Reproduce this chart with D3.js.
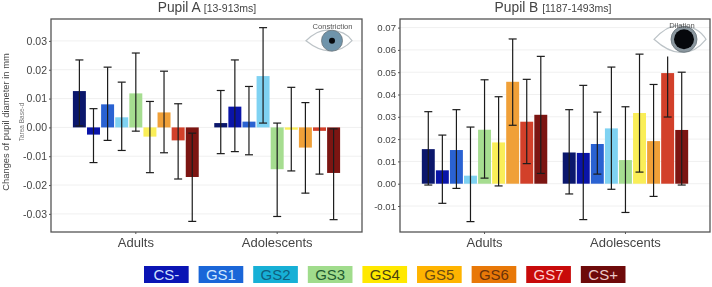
<!DOCTYPE html>
<html>
<head>
<meta charset="utf-8">
<script src="https://cdn.jsdelivr.net/npm/d3@7"></script>
<style>
  html, body { margin: 0; padding: 0; background: #fff; }
  svg { filter: blur(0.35px); }
  text { font-family: "Liberation Sans", Arial, sans-serif; fill: #444; }
</style>
</head>
<body>
<div id="chart"></div>
<script>
// Categories
const groups = ["Adults", "Adolescents"];
const conditions = ["CS-", "GS1", "GS2", "GS3", "GS4", "GS5", "GS6", "GS7", "CS+"];

// Colours of the bars and of the legend boxes differ in the original
const barColors = ["#0b176c", "#0a14a8", "#2a62d2", "#7fd2f2", "#a6dd90", "#faee58", "#f0a038", "#d2402a", "#7c1512"];
const legendColors = ["#0a14b4", "#1a66d8", "#17b0d6", "#a0dc8c", "#ffe800", "#ffb400", "#e87808", "#c80a0a", "#6e0a0a"];
const legendTextColors = ["#cfe0ff", "#cfe8ff", "#0f5f80", "#1f5a30", "#4a4210", "#6a4a10", "#6a3208", "#ffd0d0", "#ecc8c8"];

// Pupil A values
const pupilAAdults = [0.0126, -0.0025, 0.0080, 0.0035, 0.0118, -0.0032, 0.0052, -0.0045, -0.0172];
const pupilAAdultsHi = [0.0234, 0.0065, 0.0209, 0.0157, 0.0258, 0.0090, 0.0195, 0.0082, -0.0020];
const pupilAAdultsLo = [0.0005, -0.0122, -0.0045, -0.0080, -0.0013, -0.0157, -0.0088, -0.0179, -0.0326];
const pupilAAdolescents = [0.0015, 0.0072, 0.0020, 0.0178, -0.0145, -0.0008, -0.0070, -0.0012, -0.0158];
const pupilAAdolescentsHi = [0.0128, 0.0234, 0.0142, 0.0346, 0.0015, 0.0139, 0.0086, 0.0132, -0.0005];
const pupilAAdolescentsLo = [-0.0091, -0.0084, -0.0095, 0.0015, -0.0309, -0.0151, -0.0228, -0.0162, -0.0320];

// Pupil B values
const pupilBAdults = [0.0155, 0.0060, 0.0151, 0.0036, 0.0242, 0.0185, 0.0457, 0.0278, 0.0309];
const pupilBAdultsHi = [0.0323, 0.0218, 0.0332, 0.0254, 0.0466, 0.0390, 0.0649, 0.0468, 0.0571];
const pupilBAdultsLo = [-0.0006, -0.0088, -0.0021, -0.0170, 0.0025, -0.0010, 0.0262, 0.0090, 0.0046];
const pupilBAdolescents = [0.0140, 0.0138, 0.0178, 0.0248, 0.0106, 0.0317, 0.0191, 0.0496, 0.0241];
const pupilBAdolescentsHi = [0.0332, 0.0441, 0.0321, 0.0523, 0.0345, 0.0581, 0.0445, 0.0570, 0.0500];
const pupilBAdolescentsLo = [-0.0046, -0.0161, 0.0043, -0.0025, -0.0129, 0.0052, -0.0057, 0.0299, -0.0006];

const ticksA = [-0.03, -0.02, -0.01, 0, 0.01, 0.02, 0.03];
const ticksB = [-0.01, 0, 0.01, 0.02, 0.03, 0.04, 0.05, 0.06, 0.07];

const width = 712;
const height = 287;

const svg = d3.select("#chart")
    .append("svg")
        .attr("width", width)
        .attr("height", height)
        .style("display", "block");

// Draw one panel
function drawPanel(opts) {
    const scaleX = d3.scaleBand()
        .domain(groups)
        .range([opts.left, opts.right])
        .paddingInner(0)
        .paddingOuter(0.1);

    const scaleInner = d3.scaleBand()
        .domain(conditions)
        .range([0, scaleX.bandwidth()])
        .paddingInner(0.08)
        .paddingOuter(0.55);

    const scaleY = d3.scaleLinear()
        .domain(opts.domain)
        .range([opts.zeroY + (opts.domain[0] / -0.01) * opts.pxPer, opts.zeroY - (opts.domain[1] / 0.01) * opts.pxPer]);

    const g = svg.append("g");

    // grid
    g.append("g").selectAll("line")
        .data(opts.ticks)
        .join("line")
            .attr("x1", opts.left)
            .attr("x2", opts.right)
            .attr("y1", d => scaleY(d))
            .attr("y2", d => scaleY(d))
            .attr("stroke", "#f0f0f0")
            .attr("stroke-width", 1);

    // bars and whiskers per group
    opts.series.forEach(function(s, gi) {
        const group = g.append("g")
            .attr("transform", "translate(" + scaleX(groups[gi]) + ",0)");

        group.selectAll("rect")
            .data(conditions)
            .join("rect")
                .attr("x", d => scaleInner(d))
                .attr("width", scaleInner.bandwidth())
                .attr("y", (d, i) => Math.min(scaleY(s.values[i]), scaleY(0)))
                .attr("height", (d, i) => Math.abs(scaleY(s.values[i]) - scaleY(0)))
                .attr("fill", (d, i) => barColors[i]);

        const err = group.selectAll("g.err")
            .data(conditions)
            .join("g")
                .attr("class", "err")
                .attr("stroke", "#1c1c1c")
                .attr("stroke-width", 1.2)
                .attr("transform", d => "translate(" + (scaleInner(d) + scaleInner.bandwidth() / 2) + ",0)");

        err.append("line")
            .attr("y1", (d, i) => scaleY(s.hi[i]))
            .attr("y2", (d, i) => scaleY(s.lo[i]));

        err.append("line")
            .attr("x1", -4).attr("x2", 4)
            .attr("y1", (d, i) => scaleY(s.lo[i]))
            .attr("y2", (d, i) => scaleY(s.lo[i]));

        // the top cap is missing on GS7 adolescents in panel B
        err.filter((d, i) => !(opts.noTopCap && gi === 1 && i === 7))
            .append("line")
            .attr("x1", -4).attr("x2", 4)
            .attr("y1", d => scaleY(s.hi[conditions.indexOf(d)]))
            .attr("y2", d => scaleY(s.hi[conditions.indexOf(d)]));
    });

    // frame
    g.append("rect")
        .attr("x", opts.left)
        .attr("y", opts.top)
        .attr("width", opts.right - opts.left)
        .attr("height", opts.bottom - opts.top)
        .attr("fill", "none")
        .attr("stroke", "#555")
        .attr("stroke-width", 1.3);

    // y axis
    const axisY = g.append("g")
        .attr("transform", "translate(" + opts.left + ",0)")
        .call(d3.axisLeft(scaleY).tickValues(opts.ticks).tickSize(2).tickPadding(2));
    axisY.select(".domain").remove();
    axisY.selectAll("line").attr("stroke", "#555");
    axisY.selectAll("text")
        .style("font-size", opts.tickFont)
        .style("fill", "#444")
        .text(d => d3.format(".2f")(d).replace("\u2212", "-"));

    // x axis
    const axisX = g.append("g")
        .attr("transform", "translate(0," + opts.bottom + ")")
        .call(d3.axisBottom(scaleX).tickSize(2).tickPadding(4));
    axisX.select(".domain").remove();
    axisX.selectAll("line").attr("stroke", "#555");
    axisX.selectAll("text")
        .style("font-size", "13px")
        .style("fill", "#444");

    // title
    const title = g.append("text")
        .attr("x", opts.titleX)
        .attr("y", 12)
        .attr("text-anchor", "middle")
        .style("font-size", "13.8px");
    title.append("tspan").text(opts.title + " ");
    title.append("tspan").style("font-size", "10.5px").text(opts.range);
}

drawPanel({
    left: 51, right: 362, top: 19, bottom: 232,
    zeroY: 127.4, pxPer: 28.83,
    domain: [-0.0361, 0.0376],
    ticks: ticksA, tickFont: "10.5px",
    title: "Pupil A", range: "[13-913ms]", titleX: 207,
    series: [
        {values: pupilAAdults, hi: pupilAAdultsHi, lo: pupilAAdultsLo},
        {values: pupilAAdolescents, hi: pupilAAdolescentsHi, lo: pupilAAdolescentsLo}
    ]
});

drawPanel({
    left: 400, right: 710, top: 19, bottom: 232,
    zeroY: 183.7, pxPer: 22.3,
    domain: [-0.0217, 0.0737],
    ticks: ticksB, tickFont: "9.6px",
    title: "Pupil B", range: "[1187-1493ms]", titleX: 553,
    noTopCap: true,
    series: [
        {values: pupilBAdults, hi: pupilBAdultsHi, lo: pupilBAdultsLo},
        {values: pupilBAdolescents, hi: pupilBAdolescentsHi, lo: pupilBAdolescentsLo}
    ]
});

// y axis labels
svg.append("text")
    .attr("transform", "translate(9,122) rotate(-90)")
    .attr("text-anchor", "middle")
    .style("font-size", "9.4px")
    .text("Changes of pupil diameter in mm");

svg.append("text")
    .attr("transform", "translate(24,122) rotate(-90)")
    .attr("text-anchor", "middle")
    .style("font-size", "6.5px")
    .style("fill", "#777")
    .text("Tarea Base-d");

// Eye icon, the iris sits a little right of the middle of the lids
function drawEye(eye) {
    const g = svg.append("g").attr("transform", "translate(" + eye.cx + "," + eye.cy + ")");
    const rx = eye.rx, ry = eye.ry;
    g.append("path")
        .attr("d", "M" + (-rx) + ",0 Q" + (-rx * 0.4) + "," + (-ry * 1.3) + " " + (rx * 0.1) + "," + (-ry) +
                   " Q" + (rx * 0.7) + "," + (-ry) + " " + rx + ",0 Q" + (rx * 0.6) + "," + ry + " " + (rx * 0.1) + "," + ry +
                   " Q" + (-rx * 0.4) + "," + (ry * 1.1) + " " + (-rx) + ",0 Z")
        .attr("fill", "#fff")
        .attr("stroke", "#bcc3c7")
        .attr("stroke-width", 1.2);
    g.append("circle").attr("cx", eye.irisX).attr("r", eye.irisR)
        .attr("fill", eye.iris).attr("stroke", "#68737a").attr("stroke-width", 0.8);
    g.append("circle").attr("cx", eye.irisX).attr("r", eye.pupilR).attr("fill", "#06080c");
    svg.append("text")
        .attr("x", eye.labelX)
        .attr("y", eye.labelY)
        .attr("text-anchor", "middle")
        .style("font-size", eye.font)
        .style("fill", "#555")
        .text(eye.label);
}
drawEye({cx: 329, cy: 40.7, rx: 23, ry: 10, irisX: 3, irisR: 10.5, pupilR: 3, iris: "#6f94ab",
         label: "Constriction", labelX: 332.5, labelY: 28.5, font: "7.6px"});
drawEye({cx: 680, cy: 39.3, rx: 26, ry: 13, irisX: 4, irisR: 13, pupilR: 10, iris: "#8b979f",
         label: "Dilation", labelX: 682, labelY: 27.5, font: "7.6px"});

// Legend
const scaleLegend = d3.scaleBand()
    .domain(conditions)
    .range([144, 625.5])
    .paddingInner(0.182)
    .paddingOuter(0);

const legend = svg.append("g").selectAll("g")
    .data(conditions)
    .join("g")
        .attr("transform", d => "translate(" + scaleLegend(d) + ",266)");

legend.append("rect")
    .attr("width", scaleLegend.bandwidth())
    .attr("height", 17)
    .attr("fill", (d, i) => legendColors[i]);

legend.append("text")
    .attr("x", scaleLegend.bandwidth() / 2)
    .attr("y", 14)
    .attr("text-anchor", "middle")
    .style("font-size", "15px")
    .style("fill", (d, i) => legendTextColors[i])
    .text(d => d);
</script>
</body>
</html>
